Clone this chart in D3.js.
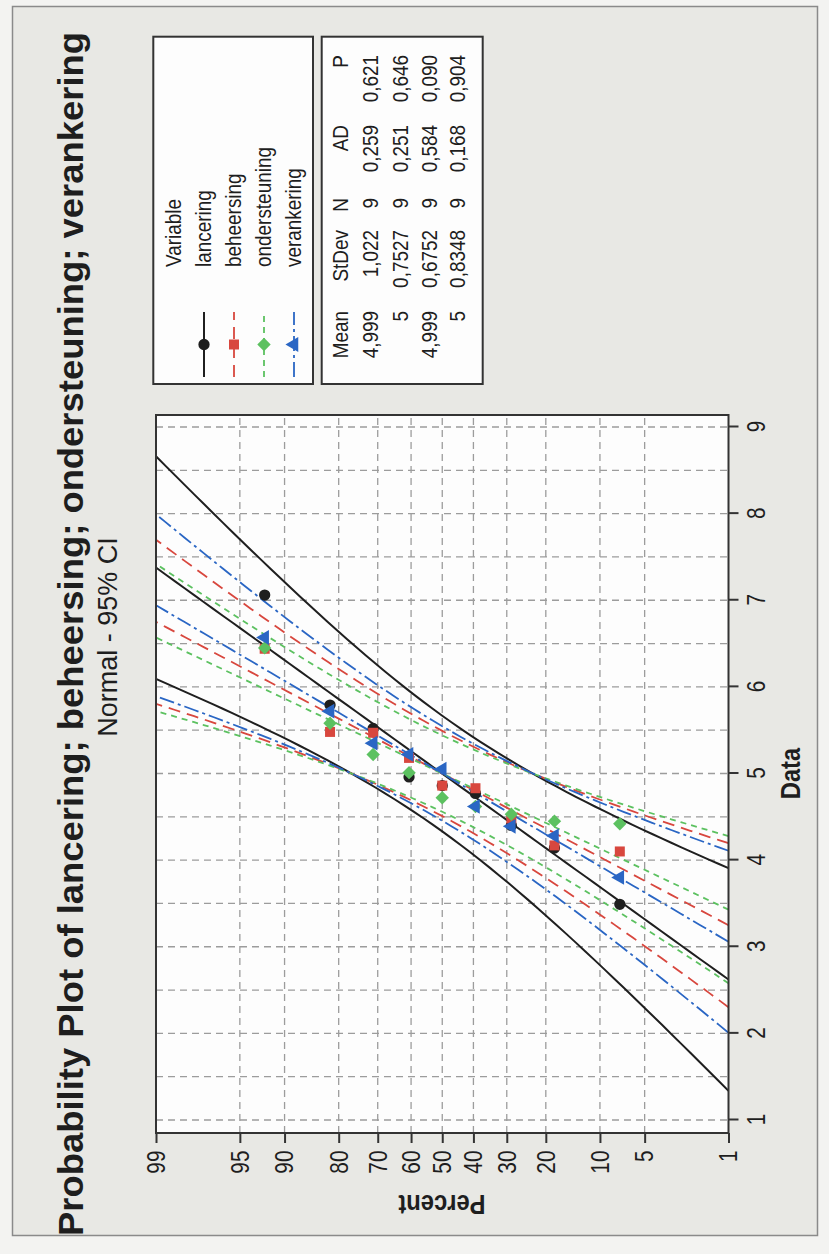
<!DOCTYPE html>
<html lang="nl">
<head>
    <meta charset="utf-8">
    <title>Probability Plot of lancering; beheersing; ondersteuning; verankering</title>
    <script src="https://d3js.org/d3.v7.min.js"></script>
    <style>
        body { margin: 0; background: #f3f3f1; }
        svg { display: block; }
        text { font-family: "Liberation Sans", Arial, sans-serif; fill: #1e1e1e; }
    </style>
</head>
<body>
<div id="chart"></div>
<script>
    const plotPercent = [7.45, 18.09, 28.72, 39.36, 50, 60.64, 71.28, 81.91, 92.55];
    const lancering     = [3.49, 4.14, 4.40, 4.77, 4.86, 4.96, 5.52, 5.79, 7.06];
    const beheersing    = [4.10, 4.17, 4.48, 4.83, 4.86, 5.18, 5.47, 5.48, 6.44];
    const ondersteuning = [4.42, 4.45, 4.53, 4.62, 4.72, 5.01, 5.22, 5.58, 6.45];
    const verankering   = [3.80, 4.28, 4.39, 4.62, 5.05, 5.22, 5.35, 5.72, 6.57];

    const variables = ["lancering", "beheersing", "ondersteuning", "verankering"];
    const means = [4.999, 5, 4.999, 5];
    const stdevs = [1.022, 0.7527, 0.6752, 0.8348];
    const counts = [9, 9, 9, 9];
    const meanLabels = ["4,999", "5", "4,999", "5"];
    const stdevLabels = ["1,022", "0,7527", "0,6752", "0,8348"];
    const adLabels = ["0,259", "0,251", "0,584", "0,168"];
    const pLabels = ["0,621", "0,646", "0,090", "0,904"];

    const percentTicks = [1, 5, 10, 20, 30, 40, 50, 60, 70, 80, 90, 95, 99];
    const dataTicks = [1, 2, 3, 4, 5, 6, 7, 8, 9];

    const colors = ["#1f1f1f", "#d8473e", "#5cc160", "#2a66c4"];
    const dashes = [null, "12,7", "6,5", "15,4,3,4"];
    const widths = [2, 1.8, 1.8, 1.8];

    // inverse normal cdf (Acklam)
    function qnorm(p) {
        const a = [-3.969683028665376e+01, 2.209460984245205e+02, -2.759285104469687e+02, 1.383577518672690e+02, -3.066479806614716e+01, 2.506628277459239e+00];
        const b = [-5.447609879822406e+01, 1.615858368580409e+02, -1.556989798598866e+02, 6.680131188771972e+01, -1.328068155288572e+01];
        const c = [-7.784894002430293e-03, -3.223964580411365e-01, -2.400758277161838e+00, -2.549732539343734e+00, 4.374664141464968e+00, 2.938163982698783e+00];
        const d = [7.784695709041462e-03, 3.224671290700398e-01, 2.445134137142996e+00, 3.754408661907416e+00];
        const pl = 0.02425;
        let q, r;
        if (p < pl) {
            q = Math.sqrt(-2 * Math.log(p));
            return (((((c[0]*q+c[1])*q+c[2])*q+c[3])*q+c[4])*q+c[5]) / ((((d[0]*q+d[1])*q+d[2])*q+d[3])*q+1);
        }
        if (p <= 1 - pl) {
            q = p - 0.5; r = q * q;
            return (((((a[0]*r+a[1])*r+a[2])*r+a[3])*r+a[4])*r+a[5])*q / (((((b[0]*r+b[1])*r+b[2])*r+b[3])*r+b[4])*r+1);
        }
        q = Math.sqrt(-2 * Math.log(1 - p));
        return -(((((c[0]*q+c[1])*q+c[2])*q+c[3])*q+c[4])*q+c[5]) / ((((d[0]*q+d[1])*q+d[2])*q+d[3])*q+1);
    }

    // the scanned fonts are narrower than Liberation Sans
    function squeeze(sel, k) {
        sel.each(function() {
            const len = this.getComputedTextLength();
            if (len > 0) d3.select(this).attr("textLength", len * k).attr("lengthAdjust", "spacingAndGlyphs");
        });
    }

    const W = 829, H = 1254;
    const svg = d3.select("#chart").append("svg").attr("width", W).attr("height", H);

    // scanned page look
    svg.append("rect").attr("width", W).attr("height", H).attr("fill", "#f3f3f1");
    svg.append("rect").attr("x", 12.5).attr("y", 6.5).attr("width", 805).attr("height", 1229)
        .attr("fill", "#e8e8e4").attr("stroke", "#8a8a8a").attr("stroke-width", 1.5);

    // the graph is drawn landscape and then turned a quarter to the left
    const g = svg.append("g").attr("transform", `translate(0,${H}) rotate(-90)`);

    const frame = {left: 121, right: 839, top: 156, bottom: 728.5};
    const x = d3.scaleLinear().domain([1, 9]).range([134, 827]);
    const zMax = qnorm(0.99);
    const y = d3.scaleLinear().domain([-zMax, zMax]).range([frame.bottom, frame.top]);

    g.append("rect").attr("x", frame.left).attr("y", frame.top)
        .attr("width", frame.right - frame.left).attr("height", frame.bottom - frame.top)
        .attr("fill", "#fdfdfd");

    g.append("clipPath").attr("id", "plotclip").append("rect")
        .attr("x", frame.left).attr("y", frame.top)
        .attr("width", frame.right - frame.left).attr("height", frame.bottom - frame.top);

    // grid
    const grid = g.append("g").attr("stroke", "#9c9c9c").attr("stroke-width", 1.3).attr("stroke-dasharray", "7,5");
    grid.selectAll("line.gx").data(d3.range(1, 9.01, 0.5)).join("line")
        .attr("x1", d => x(d)).attr("x2", d => x(d))
        .attr("y1", frame.top).attr("y2", frame.bottom);
    grid.selectAll("line.gy").data(percentTicks.slice(1, -1)).join("line")
        .attr("x1", frame.left).attr("x2", frame.right)
        .attr("y1", d => y(qnorm(d / 100))).attr("y2", d => y(qnorm(d / 100)));

    // fitted line and 95% CI for every variable
    const zGrid = d3.range(0, 61).map(i => -zMax + i * 2 * zMax / 60);
    const line = d3.line().x(d => x(d[0])).y(d => y(d[1]));
    const lines = g.append("g").attr("clip-path", "url(#plotclip)").attr("fill", "none");
    variables.forEach((v, i) => {
        const m = means[i], s = stdevs[i], n = counts[i];
        const fit = zGrid.map(z => [m + z * s, z]);
        const half = z => 1.96 * s * Math.sqrt(1 / n + z * z / (2 * n));
        const lo = zGrid.map(z => [m + z * s - half(z), z]);
        const hi = zGrid.map(z => [m + z * s + half(z), z]);
        [lo, fit, hi].forEach(pts => {
            lines.append("path").attr("d", line(pts))
                .attr("stroke", colors[i]).attr("stroke-width", widths[i])
                .attr("stroke-dasharray", dashes[i]);
        });
    });

    // points
    const allData = [lancering, beheersing, ondersteuning, verankering];
    const symbols = [
        {type: d3.symbolCircle, size: 100, rot: 0},
        {type: d3.symbolSquare, size: 100, rot: 0},
        {type: d3.symbolSquare, size: 90, rot: 45},
        {type: d3.symbolTriangle, size: 95, rot: 0}
    ];
    allData.forEach((vals, i) => {
        g.append("g").selectAll("path").data(vals).join("path")
            .attr("d", d3.symbol().type(symbols[i].type).size(symbols[i].size))
            .attr("transform", (d, j) => `translate(${x(d)},${y(qnorm(plotPercent[j] / 100))}) rotate(${symbols[i].rot})`)
            .attr("fill", colors[i]);
    });

    // frame
    g.append("rect").attr("x", frame.left).attr("y", frame.top)
        .attr("width", frame.right - frame.left).attr("height", frame.bottom - frame.top)
        .attr("fill", "none").attr("stroke", "#333").attr("stroke-width", 2);

    // axes
    const yAxis = g.append("g").attr("transform", `translate(${frame.left},0)`)
        .call(d3.axisLeft(y).tickValues(percentTicks.map(p => qnorm(p / 100)))
            .tickFormat((d, i) => percentTicks[i]).tickSize(10).tickPadding(7.5));
    const xAxis = g.append("g").attr("transform", `translate(0,${frame.bottom})`)
        .call(d3.axisBottom(x).tickValues(dataTicks).tickSize(10).tickPadding(8.5));
    [xAxis, yAxis].forEach(ax => {
        ax.select(".domain").remove();
        ax.selectAll(".tick line").attr("stroke", "#333").attr("stroke-width", 2);
        ax.selectAll(".tick text").attr("font-size", 26).attr("fill", "#1e1e1e")
            .attr("font-family", "Liberation Sans, Arial, sans-serif")
            .call(squeeze, 0.8);
    });

    // axis titles
    g.append("text").attr("transform", "translate(59,442) rotate(-90)")
        .attr("text-anchor", "middle").attr("font-weight", "bold").attr("font-size", 27)
        .text("Percent").call(squeeze, 0.88);
    g.append("text").attr("x", x(5)).attr("y", 800)
        .attr("text-anchor", "middle").attr("font-weight", "bold").attr("font-size", 27)
        .text("Data").call(squeeze, 0.88);

    // titles
    g.append("text").attr("x", 18).attr("y", 83)
        .attr("font-weight", "bold").attr("font-size", 35)
        .attr("textLength", 1204).attr("lengthAdjust", "spacingAndGlyphs")
        .text("Probability Plot of lancering; beheersing; ondersteuning; verankering");
    g.append("text").attr("x", 617).attr("y", 117)
        .attr("text-anchor", "middle").attr("font-size", 27)
        .text("Normal - 95% CI");

    // legend boxes
    const boxLeft = 870, boxRight = 1217.3;
    g.append("rect").attr("x", boxLeft).attr("y", 153.3).attr("width", boxRight - boxLeft).attr("height", 159.7)
        .attr("fill", "#fdfdfd").attr("stroke", "#333").attr("stroke-width", 2);
    g.append("rect").attr("x", boxLeft).attr("y", 321.7).attr("width", boxRight - boxLeft).attr("height", 161)
        .attr("fill", "#fdfdfd").attr("stroke", "#333").attr("stroke-width", 2);

    const legend = g.append("g");
    legend.append("text").attr("x", 987).attr("y", 181).attr("font-size", 22).text("Variable");
    variables.forEach((v, i) => {
        const cy = 204 + 30 * i;
        legend.append("line").attr("x1", 877).attr("x2", 942).attr("y1", cy).attr("y2", cy)
            .attr("stroke", colors[i]).attr("stroke-width", widths[i]).attr("stroke-dasharray", dashes[i]);
        legend.append("path")
            .attr("d", d3.symbol().type(symbols[i].type).size(symbols[i].size))
            .attr("transform", `translate(909.5,${cy}) rotate(${symbols[i].rot})`)
            .attr("fill", colors[i]);
        legend.append("text").attr("x", 987).attr("y", 211 + 30 * i).attr("font-size", 22).text(v);
    });

    const colEnds = [943, 1024, 1056, 1129, 1199];
    const header = ["Mean", "StDev", "N", "AD", "P"];
    const rowBase = [378, 408, 437, 465];
    header.forEach((h, c) => {
        legend.append("text").attr("x", colEnds[c]).attr("y", 348).attr("text-anchor", "end")
            .attr("font-size", 22).text(h);
    });
    variables.forEach((v, i) => {
        const row = [meanLabels[i], stdevLabels[i], counts[i], adLabels[i], pLabels[i]];
        row.forEach((t, c) => {
            legend.append("text").attr("x", colEnds[c]).attr("y", rowBase[i]).attr("text-anchor", "end")
                .attr("font-size", 22).text(t);
        });
    });
    legend.selectAll("text").call(squeeze, 0.86);
</script>
</body>
</html>
